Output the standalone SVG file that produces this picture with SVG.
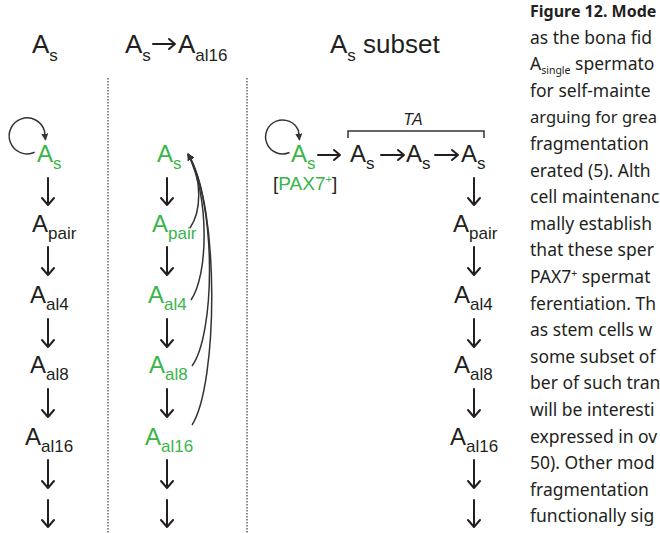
<svg xmlns="http://www.w3.org/2000/svg" width="660" height="533" viewBox="0 0 660 533">
<style>
  .lbl { font-family: "Liberation Sans", Arial, sans-serif; font-size: 24px; fill: #231f20; }
  .hdr { font-family: "Liberation Sans", Arial, sans-serif; font-size: 26px; fill: #231f20; }
  .sub { font-size: 17px; }
  .g { fill: #3ab54a; }
  .arr { fill: none; stroke: #231f20; stroke-width: 2; stroke-linecap: round; stroke-linejoin: round; }
  .curve { fill: none; stroke: #333; stroke-width: 1.5; }
  .div { stroke: #666; stroke-width: 1.5; stroke-dasharray: 1.5 1.5; }
  .body { font-family: "Noto Sans", "Open Sans", sans-serif; font-size: 17.5px; fill: #231f20; }
  .bold { font-weight: bold; }
</style>
<defs>
  <marker id="tri" viewBox="0 0 10 10" refX="9" refY="5" markerWidth="7" markerHeight="7" markerUnits="userSpaceOnUse" orient="auto">
    <path d="M0,0 L10,5 L0,10 z" fill="#333"/>
  </marker>
</defs>

<g id="headers">
  <text class="hdr" x="32" y="53">A<tspan class="sub" dy="8">s</tspan></text>
  <text class="hdr" x="125" y="53">A<tspan class="sub" dy="8">s</tspan></text>
  <path class="arr" d="M153 44 H175 M169 39 L175 44 L169 49"/>
  <text class="hdr" x="178" y="53">A<tspan class="sub" dy="8">al16</tspan></text>
  <text class="hdr" x="330" y="53">A<tspan class="sub" dy="8">s</tspan><tspan dy="-8"> subset</tspan></text>
</g>

<g id="dividers">
  <line class="div" x1="108" y1="78" x2="108" y2="533"/>
  <line class="div" x1="247" y1="78" x2="247" y2="533"/>
</g>

<g id="col1">
  <g id="c1-As"><text class="lbl g" x="37" y="162">A<tspan class="sub" dy="7">s</tspan></text></g>
  <g id="c1-Apair"><text class="lbl" x="32" y="232">A<tspan class="sub" dy="7">pair</tspan></text></g>
  <g id="c1-Aal4"><text class="lbl" x="30" y="303">A<tspan class="sub" dy="7">al4</tspan></text></g>
  <g id="c1-Aal8"><text class="lbl" x="30" y="373">A<tspan class="sub" dy="7">al8</tspan></text></g>
  <g id="c1-Aal16"><text class="lbl" x="25" y="445">A<tspan class="sub" dy="7">al16</tspan></text></g>
</g>

<g id="col2">
  <g id="c2-As"><text class="lbl g" x="157" y="162">A<tspan class="sub" dy="7">s</tspan></text></g>
  <g id="c2-Apair"><text class="lbl g" x="152" y="232">A<tspan class="sub" dy="7">pair</tspan></text></g>
  <g id="c2-Aal4"><text class="lbl g" x="148" y="303">A<tspan class="sub" dy="7">al4</tspan></text></g>
  <g id="c2-Aal8"><text class="lbl g" x="149" y="373">A<tspan class="sub" dy="7">al8</tspan></text></g>
  <g id="c2-Aal16"><text class="lbl g" x="145" y="445">A<tspan class="sub" dy="7">al16</tspan></text></g>
</g>

<g id="col3">
  <g id="c3-As0"><text class="lbl g" x="291" y="162">A<tspan class="sub" dy="7">s</tspan></text></g>
  <g id="c3-pax7"><text class="lbl" x="273" y="190" style="font-size:19px">[<tspan class="g">PAX7</tspan><tspan class="g" style="font-size:11px" dy="-7">+</tspan><tspan dy="7">]</tspan></text></g>
  <g id="c3-As1"><text class="lbl" x="350" y="162">A<tspan class="sub" dy="7">s</tspan></text></g>
  <g id="c3-As2"><text class="lbl" x="406" y="162">A<tspan class="sub" dy="7">s</tspan></text></g>
  <g id="c3-As3"><text class="lbl" x="461" y="162">A<tspan class="sub" dy="7">s</tspan></text></g>
  <g id="c3-TA">
    <path fill="none" stroke="#333" stroke-width="1.5" d="M348 138 V131 H484 V138"/>
    <text class="lbl" x="413" y="125" text-anchor="middle" style="font-size:16px;font-style:italic">TA</text>
  </g>
  <g id="c3-Apair"><text class="lbl" x="453" y="232">A<tspan class="sub" dy="7">pair</tspan></text></g>
  <g id="c3-Aal4"><text class="lbl" x="454" y="303">A<tspan class="sub" dy="7">al4</tspan></text></g>
  <g id="c3-Aal8"><text class="lbl" x="454" y="373">A<tspan class="sub" dy="7">al8</tspan></text></g>
  <g id="c3-Aal16"><text class="lbl" x="450" y="445">A<tspan class="sub" dy="7">al16</tspan></text></g>
</g>

<g id="connectors">
  <path class="curve" marker-end="url(#tri)" d="M34.6 152.3 A18 18 0 1 1 44.5 131 L45.5 140"/>
  <path class="curve" marker-end="url(#tri)" d="M289.5 152.5 A17 17 0 1 1 298.5 131 L299.5 140"/>
  <path class="arr" d="M48 178 V205 M42 198 L48 205 L54 198"/>
  <path class="arr" d="M48 247 V275 M42 268 L48 275 L54 268"/>
  <path class="arr" d="M48 319 V347 M42 340 L48 347 L54 340"/>
  <path class="arr" d="M48 389 V417 M42 410 L48 417 L54 410"/>
  <path class="arr" d="M48 460 V488 M42 481 L48 488 L54 481"/>
  <path class="arr" d="M48 500 V527 M42 520 L48 527 L54 520"/>
  <path class="arr" d="M167 178 V205 M161 198 L167 205 L173 198"/>
  <path class="arr" d="M167 247 V275 M161 268 L167 275 L173 268"/>
  <path class="arr" d="M167 319 V347 M161 340 L167 347 L173 340"/>
  <path class="arr" d="M167 389 V417 M161 410 L167 417 L173 410"/>
  <path class="arr" d="M167 460 V488 M161 481 L167 488 L173 481"/>
  <path class="arr" d="M167 500 V527 M161 520 L167 527 L173 520"/>
  <path class="curve" marker-end="url(#tri)" d="M190 228 C201 212, 203 180, 188 154"/>
  <path class="curve" marker-end="url(#tri)" d="M191 300 C208 275, 210 200, 188 154"/>
  <path class="curve" marker-end="url(#tri)" d="M192 366 C215 335, 217 205, 188 154"/>
  <path class="curve" marker-end="url(#tri)" d="M192 425 C218 385, 220 205, 188 154"/>
  <path class="arr" d="M318 155 H340 M334 150 L340 155 L334 160"/>
  <path class="arr" d="M381 155 H404 M398 150 L404 155 L398 160"/>
  <path class="arr" d="M435 155 H458 M452 150 L458 155 L452 160"/>
  <path class="arr" d="M474 178 V205 M468 198 L474 205 L480 198"/>
  <path class="arr" d="M474 247 V275 M468 268 L474 275 L480 268"/>
  <path class="arr" d="M474 319 V347 M468 340 L474 347 L480 340"/>
  <path class="arr" d="M474 389 V417 M468 410 L474 417 L480 410"/>
  <path class="arr" d="M474 460 V488 M468 481 L474 488 L480 481"/>
  <path class="arr" d="M474 500 V527 M468 520 L474 527 L480 520"/>
</g>

<g id="caption" class="body">
  <text class="bold" x="530" y="17" style="font-size:16px">Figure 12. Mode</text>
  <text x="530" y="43.6">as the bona fid</text>
  <text x="530" y="70.2">A<tspan style="font-size:10.5px" dy="4">single</tspan><tspan dy="-4"> spermato</tspan></text>
  <text x="530" y="96.8">for self-mainte</text>
  <text x="530" y="123.4" style="font-size:16.5px">arguing for grea</text>
  <text x="530" y="150">fragmentation</text>
  <text x="530" y="176.6">erated (5). Alth</text>
  <text x="530" y="203.2">cell maintenanc</text>
  <text x="530" y="229.8">mally establish</text>
  <text x="530" y="256.4">that these sper</text>
  <text x="530" y="283">PAX7<tspan style="font-size:10.5px" dy="-6">+</tspan><tspan dy="6"> spermat</tspan></text>
  <text x="530" y="309.6">ferentiation. Th</text>
  <text x="530" y="336.2">as stem cells w</text>
  <text x="530" y="362.8">some subset of</text>
  <text x="530" y="389.4">ber of such tran</text>
  <text x="530" y="416">will be interesti</text>
  <text x="530" y="442.6">expressed in ov</text>
  <text x="530" y="469.2">50). Other mod</text>
  <text x="530" y="495.8">fragmentation</text>
  <text x="530" y="522.4">functionally sig</text>
</g>
</svg>
